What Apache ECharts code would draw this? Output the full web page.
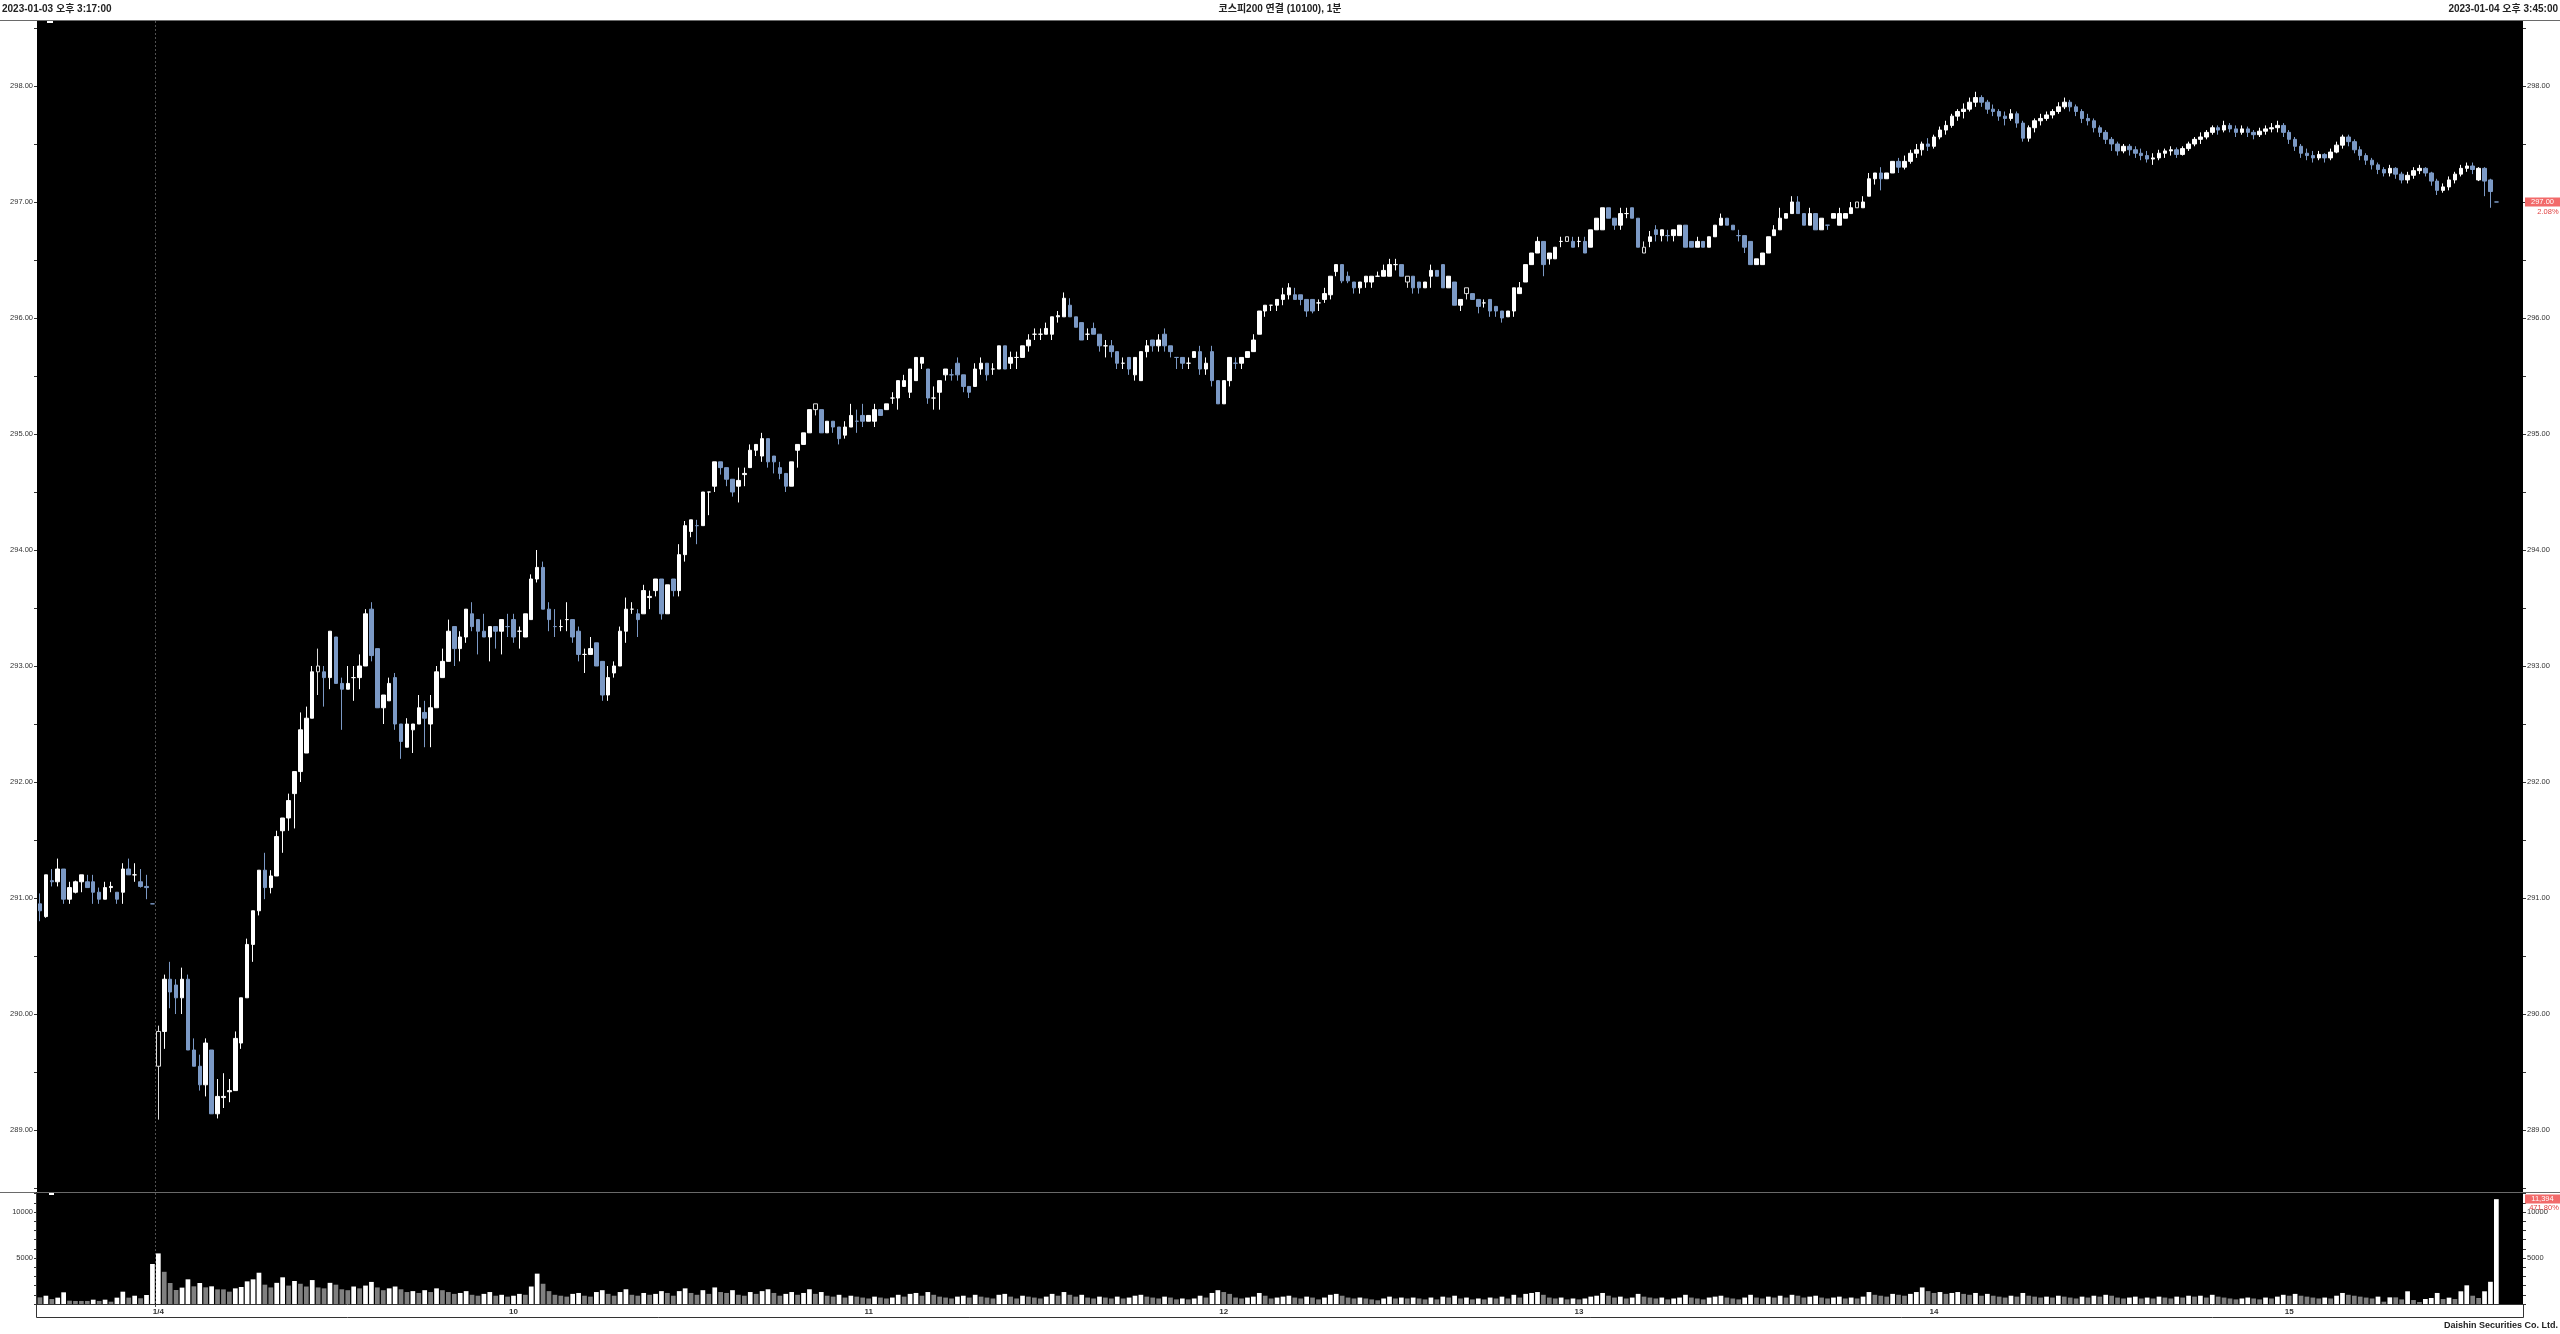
<!DOCTYPE html>
<html><head><meta charset="utf-8">
<script src="https://cdn.jsdelivr.net/npm/echarts@6/dist/echarts.min.js"></script>
<style>html,body{margin:0;padding:0;background:#fff}#c{width:2560px;height:1334px}</style>
</head><body><div id="c"></div>
<script>
// ---------- DATA ----------
const titleLeft = '2023-01-03 오후 3:17:00';
const titleCenter = '코스피200 연결 (10100), 1분';
const titleRight = '2023-01-04 오후 3:45:00';
const footer = 'Daishin Securities Co. Ltd.';
const day1Start = [15, 17], day1Count = 20;   // 15:17 .. 15:35 + closing 15:45
const day2Start = [9, 0], day2Count = 396;    // 09:00 .. 15:34 + closing 15:45
const dayBreakLabel = '1/4';
const priceTicks = [289, 290, 291, 292, 293, 294, 295, 296, 297, 298];
const volumeTicks = [5000, 10000];
const hollowCandles = [21, 48, 132, 232, 242, 259, 272, 308];

// candles: [open, close, low, high]
const candles = [
[290.95,290.89,290.80,291.04],[290.84,291.20,290.83,291.20],[291.15,291.14,291.10,291.25],[291.14,291.25,291.10,291.34],[291.25,290.99,290.95,291.25],
[290.99,291.09,290.95,291.14],[291.05,291.14,291.04,291.15],[291.14,291.20,291.05,291.20],[291.14,291.09,291.09,291.20],[291.14,291.05,290.95,291.20],
[291.05,290.99,290.95,291.09],[290.99,291.09,290.99,291.14],[291.09,291.10,291.05,291.14],[291.05,290.99,290.95,291.05],[291.05,291.25,290.95,291.30],
[291.25,291.20,291.20,291.34],[291.20,291.20,291.14,291.30],[291.14,291.10,291.09,291.25],[291.10,291.09,290.99,291.20],[290.95,290.95,290.95,290.95],
// day 2
[289.55,289.85,289.09,289.90],[289.85,290.30,289.70,290.34],[290.30,290.19,290.05,290.45],[290.25,290.14,290.00,290.30],[290.14,290.30,290.00,290.40],
[290.30,289.69,289.69,290.34],[289.69,289.55,289.55,289.79],[289.55,289.39,289.34,289.65],[289.39,289.75,289.29,289.79],[289.69,289.14,289.14,289.69],
[289.14,289.29,289.10,289.44],[289.28,289.29,289.19,289.49],[289.33,289.34,289.24,289.44],[289.34,289.79,289.34,289.85],[289.75,290.14,289.70,290.14],
[290.14,290.60,290.14,290.65],[290.60,290.89,290.45,290.89],[290.89,291.24,290.85,291.24],[291.24,291.09,290.99,291.39],[291.09,291.19,291.04,291.24],
[291.19,291.53,291.19,291.58],[291.58,291.69,291.39,291.69],[291.69,291.84,291.58,291.90],[291.90,292.09,291.60,292.09],[292.09,292.45,292.00,292.60],
[292.25,292.55,292.25,292.65],[292.55,292.95,292.55,293.00],[292.95,293.00,292.75,293.15],[292.95,292.90,292.65,293.00],[292.90,293.30,292.80,293.30],
[293.25,292.85,292.85,293.25],[292.85,292.80,292.45,292.90],[292.80,292.85,292.80,293.00],[292.90,292.90,292.70,293.00],[292.90,293.00,292.80,293.10],
[293.00,293.45,293.00,293.49],[293.49,293.09,293.04,293.55],[293.15,292.64,292.64,293.15],[292.64,292.75,292.50,292.75],[292.70,292.85,292.70,292.90],
[292.90,292.50,292.45,292.94],[292.50,292.35,292.20,292.50],[292.30,292.50,292.30,292.55],[292.45,292.50,292.25,292.50],[292.50,292.64,292.50,292.75],
[292.60,292.55,292.30,292.70],[292.50,292.64,292.30,292.75],[292.64,292.95,292.64,293.00],[292.90,293.04,292.90,293.15],[293.04,293.30,293.04,293.40],
[293.34,293.15,293.00,293.34],[293.15,293.25,293.04,293.30],[293.25,293.49,293.20,293.49],[293.45,293.34,293.30,293.55],[293.40,293.30,293.10,293.40],
[293.30,293.25,293.25,293.45],[293.25,293.34,293.04,293.34],[293.34,293.30,293.15,293.34],[293.30,293.40,293.10,293.40],[293.34,293.34,293.25,293.45],
[293.40,293.25,293.20,293.45],[293.30,293.30,293.15,293.34],[293.25,293.45,293.25,293.45],[293.40,293.75,293.40,293.79],[293.75,293.85,293.72,294.00],
[293.85,293.49,293.49,293.90],[293.49,293.40,293.30,293.55],[293.34,293.34,293.25,293.49],[293.34,293.34,293.30,293.40],[293.40,293.40,293.30,293.55],
[293.40,293.25,293.20,293.40],[293.30,293.10,293.04,293.34],[293.10,293.10,292.94,293.15],[293.10,293.15,293.10,293.25],[293.20,293.00,293.00,293.20],
[293.04,292.75,292.70,293.04],[292.75,292.90,292.70,293.00],[292.94,293.00,292.90,293.04],[293.00,293.30,293.00,293.34],[293.30,293.49,293.20,293.59],
[293.49,293.49,293.45,293.55],[293.45,293.40,293.25,293.49],[293.45,293.65,293.45,293.70],[293.59,293.60,293.49,293.65],[293.65,293.75,293.60,293.75],
[293.75,293.45,293.40,293.75],[293.45,293.70,293.45,293.70],[293.75,293.65,293.60,293.75],[293.65,293.96,293.60,294.05],[293.96,294.21,293.90,294.25],
[294.16,294.26,294.11,294.26],[294.21,294.21,294.05,294.26],[294.21,294.50,294.21,294.50],[294.50,294.50,294.30,294.50],[294.55,294.76,294.50,294.76],
[294.76,294.71,294.65,294.76],[294.71,294.61,294.55,294.71],[294.61,294.50,294.46,294.61],[294.55,294.60,294.41,294.71],[294.65,294.66,294.55,294.71],
[294.71,294.86,294.71,294.91],[294.86,294.91,294.81,294.91],[294.81,294.96,294.76,295.01],[294.96,294.76,294.71,294.96],[294.81,294.76,294.66,294.81],
[294.71,294.66,294.61,294.76],[294.66,294.55,294.50,294.66],[294.55,294.76,294.55,294.76],[294.86,294.91,294.71,294.91],[294.91,295.01,294.91,295.01],
[295.01,295.21,295.01,295.21],[295.21,295.26,295.16,295.26],[295.21,295.01,295.01,295.21],[295.01,295.11,295.01,295.11],[295.11,295.06,295.01,295.11],
[295.06,294.96,294.91,295.06],[294.99,295.06,294.96,295.11],[295.06,295.16,295.06,295.26],[295.11,295.11,295.01,295.21],[295.16,295.11,295.06,295.26],
[295.11,295.16,295.11,295.16],[295.11,295.21,295.06,295.26],[295.21,295.16,295.16,295.21],[295.21,295.26,295.21,295.26],[295.31,295.31,295.26,295.36],
[295.31,295.46,295.21,295.46],[295.41,295.46,295.41,295.51],[295.36,295.56,295.31,295.56],[295.46,295.66,295.46,295.66],[295.61,295.66,295.56,295.66],
[295.56,295.31,295.26,295.56],[295.31,295.31,295.21,295.41],[295.36,295.46,295.21,295.46],[295.51,295.56,295.46,295.56],[295.51,295.51,295.46,295.56],
[295.61,295.51,295.46,295.66],[295.51,295.41,295.36,295.51],[295.41,295.36,295.31,295.41],[295.41,295.56,295.41,295.61],[295.56,295.61,295.51,295.66],
[295.61,295.51,295.46,295.61],[295.56,295.56,295.51,295.61],[295.56,295.76,295.56,295.76],[295.76,295.56,295.56,295.76],[295.61,295.66,295.56,295.71],
[295.66,295.66,295.56,295.71],[295.66,295.76,295.66,295.76],[295.76,295.81,295.71,295.86],[295.86,295.86,295.81,295.91],[295.86,295.86,295.81,295.91],
[295.86,295.91,295.86,295.96],[295.86,296.01,295.81,296.01],[296.01,296.02,295.96,296.06],[296.01,296.17,296.01,296.22],[296.11,296.01,296.01,296.17],
[296.01,295.92,295.92,296.01],[295.96,295.81,295.81,295.96],[295.86,295.86,295.81,295.91],[295.91,295.86,295.86,295.96],[295.86,295.76,295.71,295.86],
[295.76,295.76,295.66,295.81],[295.76,295.71,295.66,295.81],[295.71,295.61,295.56,295.71],[295.61,295.61,295.56,295.66],[295.66,295.56,295.51,295.66],
[295.51,295.66,295.46,295.66],[295.46,295.71,295.46,295.71],[295.71,295.76,295.66,295.81],[295.81,295.76,295.71,295.81],[295.76,295.81,295.71,295.86],
[295.86,295.76,295.71,295.91],[295.76,295.71,295.66,295.76],[295.66,295.66,295.56,295.66],[295.66,295.61,295.56,295.66],[295.61,295.61,295.56,295.66],
[295.66,295.71,295.66,295.71],[295.71,295.56,295.51,295.76],[295.56,295.61,295.51,295.66],[295.71,295.46,295.41,295.76],[295.46,295.26,295.26,295.46],
[295.26,295.46,295.26,295.46],[295.46,295.66,295.41,295.66],[295.61,295.61,295.56,295.66],[295.61,295.66,295.56,295.66],[295.66,295.71,295.66,295.71],
[295.71,295.81,295.71,295.86],[295.86,296.06,295.86,296.06],[296.06,296.11,296.01,296.11],[296.11,296.11,296.06,296.11],[296.11,296.16,296.06,296.16],
[296.16,296.20,296.11,296.26],[296.20,296.26,296.16,296.30],[296.20,296.16,296.16,296.26],[296.20,296.16,296.11,296.20],[296.16,296.06,296.01,296.16],
[296.16,296.06,296.04,296.16],[296.13,296.13,296.06,296.16],[296.16,296.21,296.13,296.26],[296.20,296.36,296.16,296.36],[296.40,296.46,296.36,296.46],
[296.46,296.32,296.30,296.46],[296.36,296.32,296.30,296.40],[296.31,296.26,296.21,296.31],[296.26,296.31,296.21,296.31],[296.31,296.36,296.26,296.36],
[296.31,296.36,296.26,296.36],[296.36,296.36,296.36,296.40],[296.36,296.41,296.36,296.46],[296.36,296.46,296.36,296.51],[296.46,296.46,296.41,296.51],
[296.46,296.36,296.36,296.46],[296.31,296.36,296.26,296.36],[296.36,296.26,296.21,296.36],[296.31,296.26,296.21,296.31],[296.26,296.31,296.26,296.31],
[296.36,296.41,296.26,296.46],[296.41,296.36,296.36,296.41],[296.46,296.26,296.26,296.46],[296.26,296.36,296.26,296.36],[296.31,296.11,296.11,296.31],
[296.11,296.16,296.06,296.16],[296.21,296.26,296.16,296.26],[296.21,296.16,296.16,296.21],[296.16,296.10,296.04,296.16],[296.13,296.13,296.09,296.16],
[296.16,296.06,296.01,296.16],[296.10,296.06,296.01,296.10],[296.06,296.00,295.96,296.06],[296.01,296.06,296.01,296.06],[296.06,296.26,296.01,296.26],
[296.21,296.26,296.21,296.31],[296.31,296.46,296.31,296.46],[296.46,296.56,296.46,296.56],[296.56,296.66,296.56,296.70],[296.66,296.46,296.36,296.66],
[296.51,296.56,296.46,296.56],[296.51,296.61,296.51,296.61],[296.66,296.66,296.61,296.70],[296.66,296.70,296.66,296.70],[296.66,296.61,296.61,296.70],
[296.66,296.66,296.61,296.70],[296.66,296.56,296.56,296.70],[296.61,296.76,296.61,296.76],[296.76,296.86,296.76,296.86],[296.76,296.95,296.76,296.95],
[296.95,296.86,296.86,296.95],[296.86,296.80,296.76,296.86],[296.80,296.90,296.76,296.95],[296.90,296.90,296.86,296.95],[296.95,296.86,296.86,296.95],
[296.86,296.61,296.61,296.86],[296.56,296.61,296.56,296.66],[296.66,296.70,296.61,296.75],[296.76,296.72,296.66,296.80],[296.71,296.76,296.66,296.76],
[296.71,296.71,296.66,296.76],[296.71,296.76,296.66,296.76],[296.71,296.80,296.71,296.80],[296.80,296.61,296.61,296.80],[296.66,296.61,296.61,296.66],
[296.61,296.66,296.61,296.70],[296.66,296.61,296.61,296.66],[296.61,296.70,296.61,296.70],[296.70,296.80,296.70,296.80],[296.80,296.86,296.80,296.90],
[296.86,296.80,296.80,296.86],[296.80,296.76,296.76,296.80],[296.71,296.71,296.66,296.76],[296.71,296.61,296.56,296.71],[296.66,296.46,296.46,296.66],
[296.46,296.51,296.46,296.51],[296.46,296.56,296.46,296.56],[296.56,296.70,296.56,296.70],[296.71,296.76,296.71,296.80],[296.76,296.86,296.76,296.95],
[296.86,296.90,296.86,296.90],[296.90,297.00,296.90,297.05],[297.00,296.90,296.90,297.05],[296.90,296.80,296.80,296.90],[296.80,296.90,296.80,296.95],
[296.90,296.76,296.76,296.90],[296.76,296.86,296.76,296.86],[296.80,296.80,296.76,296.80],[296.86,296.90,296.86,296.90],[296.80,296.90,296.80,296.95],
[296.86,296.90,296.86,296.90],[296.90,296.95,296.90,297.00],[296.95,297.00,296.95,297.00],[296.95,297.00,296.95,297.05],[297.05,297.20,297.05,297.25],
[297.20,297.25,297.15,297.25],[297.25,297.20,297.10,297.30],[297.20,297.25,297.20,297.25],[297.25,297.35,297.25,297.35],[297.35,297.30,297.25,297.38],
[297.30,297.35,297.28,297.40],[297.35,297.42,297.33,297.45],[297.42,297.45,297.38,297.50],[297.45,297.50,297.40,297.52],[297.50,297.48,297.44,297.55],
[297.48,297.56,297.46,297.58],[297.56,297.62,297.54,297.65],[297.62,297.66,297.58,297.70],[297.66,297.74,297.64,297.76],[297.74,297.78,297.70,297.80],
[297.78,297.80,297.72,297.85],[297.80,297.86,297.78,297.90],[297.86,297.90,297.82,297.95],[297.90,297.86,297.82,297.92],[297.86,297.80,297.76,297.88],
[297.80,297.78,297.74,297.84],[297.78,297.74,297.70,297.80],[297.74,297.72,297.66,297.78],[297.72,297.76,297.70,297.80],[297.76,297.68,297.64,297.78],
[297.68,297.55,297.52,297.70],[297.55,297.64,297.52,297.66],[297.64,297.70,297.60,297.72],[297.70,297.72,297.66,297.76],[297.72,297.75,297.70,297.78],
[297.75,297.78,297.72,297.80],[297.78,297.82,297.76,297.86],[297.82,297.86,297.80,297.90],[297.86,297.82,297.78,297.88],[297.82,297.78,297.74,297.84],
[297.78,297.72,297.68,297.80],[297.72,297.70,297.66,297.76],[297.70,297.64,297.60,297.72],[297.64,297.60,297.56,297.66],[297.60,297.54,297.50,297.62],
[297.54,297.50,297.44,297.56],[297.50,297.44,297.40,297.52],[297.44,297.48,297.42,297.50],[297.48,297.45,297.40,297.50],[297.45,297.42,297.38,297.48],
[297.42,297.40,297.36,297.46],[297.40,297.37,297.34,297.44],[297.37,297.38,297.32,297.42],[297.38,297.42,297.36,297.45],[297.42,297.44,297.38,297.46],
[297.44,297.45,297.40,297.48],[297.45,297.41,297.38,297.47],[297.41,297.46,297.40,297.48],[297.46,297.50,297.44,297.52],[297.50,297.54,297.48,297.56],
[297.54,297.56,297.50,297.60],[297.56,297.60,297.54,297.62],[297.60,297.64,297.58,297.66],[297.64,297.62,297.58,297.66],[297.62,297.66,297.60,297.70],
[297.66,297.63,297.60,297.68],[297.63,297.60,297.56,297.66],[297.60,297.63,297.58,297.66],[297.63,297.60,297.56,297.65],[297.60,297.58,297.54,297.62],
[297.58,297.61,297.56,297.64],[297.61,297.63,297.58,297.66],[297.63,297.64,297.60,297.68],[297.64,297.66,297.60,297.70],[297.66,297.60,297.56,297.68],
[297.60,297.54,297.50,297.62],[297.54,297.48,297.44,297.56],[297.48,297.42,297.38,297.50],[297.42,297.40,297.36,297.46],[297.40,297.38,297.34,297.44],
[297.38,297.41,297.36,297.44],[297.41,297.38,297.34,297.42],[297.38,297.43,297.36,297.46],[297.43,297.49,297.42,297.52],[297.49,297.56,297.46,297.58],
[297.56,297.52,297.48,297.58],[297.52,297.45,297.42,297.54],[297.45,297.40,297.36,297.48],[297.40,297.36,297.32,297.42],[297.36,297.32,297.28,297.38],
[297.32,297.28,297.24,297.34],[297.28,297.25,297.22,297.30],[297.25,297.29,297.22,297.32],[297.29,297.24,297.20,297.30],[297.24,297.19,297.16,297.26],
[297.19,297.23,297.16,297.26],[297.23,297.27,297.20,297.30],[297.27,297.29,297.24,297.32],[297.29,297.25,297.22,297.30],[297.25,297.18,297.14,297.26],
[297.18,297.10,297.06,297.20],[297.10,297.13,297.08,297.16],[297.13,297.19,297.10,297.22],[297.19,297.24,297.16,297.26],[297.24,297.29,297.22,297.32],
[297.29,297.31,297.26,297.34],[297.31,297.28,297.24,297.34],[297.19,297.29,297.18,297.30],[297.29,297.18,297.05,297.30],[297.19,297.09,296.95,297.20],
[297.00,297.00,297.00,297.00]
];

const volumes = [
720,900,540,690,1270,360,330,330,330,470,330,470,250,690,1340,690,900,620,980,4350,
5500,3500,2280,1520,1780,2680,1920,2280,1810,1920,1590,1590,1340,1700,1850,2460,2680,3400,
2100,1800,2300,2900,2000,2500,2200,1900,2600,1800,1700,2300,2100,1600,1500,1900,1700,2000,2400,1800,1500,1700,
1900,1600,1300,1400,1200,1500,1300,1700,1500,1300,1100,1200,1400,1000,900,1100,1300,900,1000,800,
900,1100,1000,1900,3300,2200,1400,1000,900,800,1100,1200,900,800,1300,1500,1100,900,1300,1600,1000,900,1200,1000,1100,1400,1200,
900,1400,1700,1200,1000,1500,1100,1800,1300,1200,1500,1000,900,1300,1100,1400,1600,1200,900,1100,1300,1000,1200,1600,
1100,1300,900,800,1000,700,900,800,700,600,800,700,600,700,1000,800,1100,1200,900,1300,1000,800,700,600,800,900,700,1000,800,
700,600,1000,1100,800,600,900,800,700,600,800,1100,900,1300,1000,800,1000,700,600,800,700,600,800,600,700,900,1000,800,700,600,800,700,500,600,500,600,900,700,1200,1500,
1300,1100,700,600,700,800,1200,900,600,700,800,900,700,600,800,700,500,700,1000,1100,900,700,600,700,600,500,400,600,800,600,700,600,700,600,500,700,500,800,700,900,
600,700,500,600,500,700,600,800,600,1000,700,1100,1200,1300,1000,700,600,700,500,600,500,600,800,900,1200,900,700,800,600,700,1100,800,700,600,700,500,600,700,1000,700,
600,500,700,800,900,700,600,500,700,1000,700,600,800,700,900,700,1000,900,700,800,900,700,600,700,800,600,700,600,800,1300,1000,900,800,1100,1000,900,1100,1300,1800,1400,
1200,1300,1100,1200,1300,1100,1000,1200,900,1100,900,800,700,900,800,1200,900,800,700,800,700,900,800,700,600,800,700,900,800,1000,900,700,600,700,800,600,700,600,800,700,
600,800,700,900,800,900,700,1000,800,700,600,500,600,700,600,500,700,600,800,1000,900,1100,900,800,700,600,700,600,900,1200,1000,900,800,700,600,
800,250,720,720,500,1380,430,220,540,650,1200,540,690,540,1380,2030,900,650,1380,2415,11394
];

// ---------- CATEGORIES ----------
function pad(n){return (n<10?'0':'')+n;}
function buildDay(prefix, start, count){
  const out=[]; let h=start[0], m=start[1];
  for(let k=0;k<count-1;k++){ out.push(prefix+' '+pad(h)+':'+pad(m)); m++; if(m===60){m=0;h++;} }
  out.push(prefix+' 15:45');
  return out;
}
const categories = buildDay('01/03', day1Start, day1Count).concat(buildDay('01/04', day2Start, day2Count));
const emptySlots = 4;
for(let k=0;k<emptySlots;k++) categories.push('');

// ---------- CHART ----------
const UP='#ffffff', DOWN='#7b99c5', VUP='#ffffff', VDOWN='#808080';
const candleData = candles.map((c,i)=> hollowCandles.indexOf(i+1)>=0
  ? {value:c, itemStyle:{color:'#000000', borderColor:'#dcdcdc'}} : c);
const volData = volumes.map((v,i)=>({value:v, itemStyle:{color: (i>0 && v>volumes[i-1]) ? VUP : VDOWN}}));

const fontNum = 'Liberation Sans, Arial, sans-serif';
const P_MIN = 288.466, P_MAX = 298.56, V_MAX = 12065;
const halfTicks=[]; for(let v=288.5; v<=298.5; v+=0.5) halfTicks.push(+v.toFixed(1));
const volMinor=[]; for(let v=0; v<=12000; v+=1000) volMinor.push(v);

function yAx(grid, pos, min, max, labels, ticks, fmt){
  return {type:'value', gridIndex:grid, position:pos, min:min, max:max, scale:true,
    axisLine:{show:false}, splitLine:{show:false},
    axisTick:{show:true, length:3, customValues:ticks, lineStyle:{color:'#333', width:1}},
    axisLabel:{show:true, customValues:labels, formatter:fmt, fontSize:7.5, color:'#333', margin:4, fontFamily:fontNum}};
}

const chart = echarts.init(document.getElementById('c'), null, {width:2560, height:1334, renderer:'canvas'});
const labelShown = (idx, val) => idx===day1Count || (idx>day1Count && typeof val==='string' && /:00$/.test(val));
chart.setOption({
  animation:false,
  backgroundColor:'#ffffff',
  grid:[
    {left:37, right:37, top:21, height:1171, show:true, backgroundColor:'#000', borderWidth:0},
    {left:37, right:37, top:1193, height:111, show:true, backgroundColor:'#000', borderWidth:0}
  ],
  xAxis:[
    {type:'category', gridIndex:0, data:categories, boundaryGap:true, axisLine:{show:false}, axisTick:{show:false}, axisLabel:{show:false}, splitLine:{show:false}},
    {type:'category', gridIndex:1, data:categories, boundaryGap:true, axisLine:{show:false}, axisTick:{show:false}, splitLine:{show:false},
     axisLabel:{interval:labelShown, margin:4, fontSize:8, fontWeight:'bold', color:'#333', fontFamily:fontNum,
       formatter:(val, idx)=> idx===day1Count ? dayBreakLabel : String(parseInt(val.slice(6,8),10))}}
  ],
  yAxis:[
    yAx(0,'left',P_MIN,P_MAX,priceTicks,halfTicks,v=>v.toFixed(2)),
    yAx(0,'right',P_MIN,P_MAX,priceTicks,halfTicks,v=>v.toFixed(2)),
    yAx(1,'left',0,V_MAX,volumeTicks,volMinor,v=>String(v)),
    yAx(1,'right',0,V_MAX,volumeTicks,volMinor,v=>String(v))
  ],
  series:[
    {type:'candlestick', xAxisIndex:0, yAxisIndex:0, data:candleData, barWidth:4,
     itemStyle:{color:UP, color0:DOWN, borderColor:UP, borderColor0:DOWN, borderWidth:1}},
    {type:'bar', xAxisIndex:1, yAxisIndex:2, data:volData, barWidth:4.7}
  ]
});

// ---------- OVERLAYS ----------
const xa = chart.convertToPixel({xAxisIndex:0}, day1Count-1);
const xb = chart.convertToPixel({xAxisIndex:0}, day1Count);
const xBreak = Math.round((xa+xb)/2)+0.5;
const lastClose = candles[candles.length-1][1];
const prevDayClose = candles[day1Count-1][1];
const pct = ((lastClose/prevDayClose-1)*100).toFixed(2)+'%';
const yPrice = chart.convertToPixel({yAxisIndex:1}, lastClose);
const lastVol = volumes[volumes.length-1];
const volPct = (lastVol/volumes[volumes.length-2]*100).toFixed(2)+'%';
const yVol = chart.convertToPixel({yAxisIndex:3}, lastVol);
const W=2560;
const txt=(x,y,s,opt)=>Object.assign({type:'text', x:x, y:y, z:200, silent:true,
  style:Object.assign({text:s, fill:'#222', font:'bold 10px "Liberation Sans", "Noto Sans CJK KR", sans-serif', textVerticalAlign:'middle'}, opt||{})});
chart.setOption({graphic:[
  {type:'line', z:150, shape:{x1:0,y1:20.5,x2:W,y2:20.5}, style:{stroke:'#6a6a6a', lineWidth:1}},
  {type:'line', z:150, shape:{x1:0,y1:1192.5,x2:W,y2:1192.5}, style:{stroke:'#6a6a6a', lineWidth:1}},
  {type:'rect', z:150, shape:{x:36.5,y:1304.5,width:2487,height:13}, style:{fill:null, stroke:'#333', lineWidth:1}},
  {type:'line', z:150, shape:{x1:36.5,y1:1192,x2:36.5,y2:1305}, style:{stroke:'#333', lineWidth:1}},
  {type:'line', z:150, shape:{x1:xBreak,y1:21,x2:xBreak,y2:1310}, style:{stroke:'#505050', lineWidth:1, lineDash:[2,2]}},
  {type:'rect', z:150, shape:{x:47,y:21,width:6,height:2}, style:{fill:'#ffffff'}},
  {type:'rect', z:150, shape:{x:49,y:1193,width:5,height:2}, style:{fill:'#ffffff'}},
  txt(2, 9, titleLeft, {textAlign:'left'}),
  txt(1280, 9, titleCenter, {textAlign:'center'}),
  txt(2558, 9, titleRight, {textAlign:'right'}),
  txt(2558, 1326, footer, {textAlign:'right', font:'bold 9px "Liberation Sans", sans-serif'}),
  {type:'rect', z:190, shape:{x:2525,y:Math.round(yPrice)-4.5,width:35,height:9}, style:{fill:'#f26a6a'}},
  txt(2542.5, Math.round(yPrice), lastClose.toFixed(2), {textAlign:'center', fill:'#ffffff', font:'7.5px "Liberation Sans", sans-serif'}),
  txt(2548, Math.round(yPrice)+10, pct, {textAlign:'center', fill:'#e04040', font:'7.5px "Liberation Sans", sans-serif'}),
  {type:'rect', z:190, shape:{x:2525,y:Math.round(yVol)-4.5,width:35,height:9}, style:{fill:'#f26a6a'}},
  txt(2542.5, Math.round(yVol), lastVol.toLocaleString('en-US'), {textAlign:'center', fill:'#ffffff', font:'7.5px "Liberation Sans", sans-serif'}),
  txt(2544, Math.round(yVol)+9, volPct, {textAlign:'center', fill:'#e04040', font:'7.5px "Liberation Sans", sans-serif'})
]});
if (candles.length !== volumes.length) { chart.setOption({graphic:[txt(1200,600,'LENGTH MISMATCH '+candles.length+' '+volumes.length,{fill:'red'})]}); }
</script></body></html>
